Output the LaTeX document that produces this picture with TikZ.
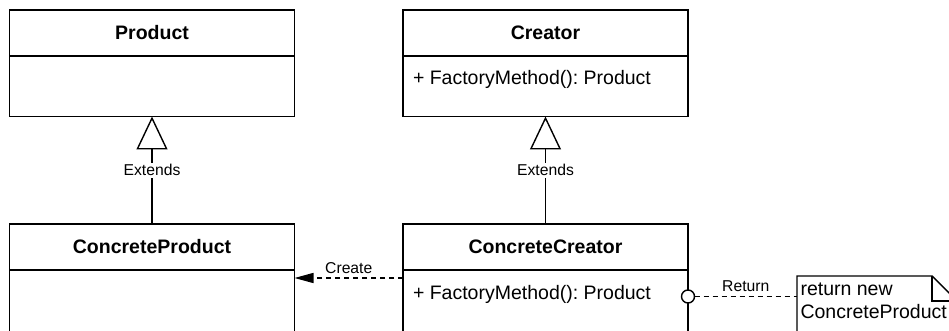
\documentclass[tikz,border=0pt]{standalone}
\usepackage{fontspec}
\setmainfont{Liberation Sans}
\usetikzlibrary{arrows.meta}
\frenchspacing
\begin{document}
\begin{tikzpicture}[x=1pt,y=-1pt,
  every node/.style={inner sep=0pt,outer sep=0pt},
  uml/.style={line width=1.4pt},
  classtitle/.style={draw,uml,minimum width=285pt,minimum height=46pt,
    font=\fontsize{19.5}{22}\bfseries\selectfont},
  classbody/.style={draw,uml,minimum width=285pt,anchor=north},
  member/.style={anchor=base west,font=\fontsize{19.5}{22}\selectfont},
  notetext/.style={anchor=base west,font=\fontsize{19.5}{23}\selectfont},
  lbl/.style={font=\fontsize{15.7}{18}\selectfont,inner sep=1.5pt},
  dep/.style={uml,dash pattern=on 5pt off 4pt},
  extends/.style={uml,-{Triangle[open,length=33pt,width=31pt,line width=1.4pt]}},
  creates/.style={dep,-{Triangle[length=19pt,width=10pt]}},
  endcircle/.style={circle,draw,uml,fill=white,minimum size=13pt},
]
\useasboundingbox (0,0) rectangle (949,331);
\fill[white] (0,0) rectangle (949,331);
\clip (0,0) rectangle (949,331);

% abstract classes
\node[classtitle] (prodT) at (152,33) {Product};
\node[classbody,minimum height=60.5pt] (prodB) at (prodT.south) {};
\node[classtitle] (crT) at (545.5,33) {Creator};
\node[classbody,minimum height=60.5pt] (crB) at (crT.south) {};
\node[member] (crM) at (413,85) {+ FactoryMethod(): Product};

% concrete classes
\node[classtitle] (cpT) at (152,247) {ConcreteProduct};
\node[classbody,minimum height=90pt] (cpB) at (cpT.south) {};
\node[classtitle] (ccT) at (545.5,247) {ConcreteCreator};
\node[classbody,minimum height=90pt] (ccB) at (ccT.south) {};
\node[member] (ccM) at (413,299) {+ FactoryMethod(): Product};

% note with folded corner
\node[minimum width=160pt,minimum height=70pt,anchor=north west] (note) at (797,276) {};
\draw[uml,fill=white] (note.north west) -- ([xshift=-25pt]note.north east)
  -- ([yshift=-25pt]note.north east) -- (note.south east)
  -- (note.south west) -- cycle;
\draw[uml] ([xshift=-25pt]note.north east) -- ([xshift=-25pt,yshift=-25pt]note.north east)
  -- ([yshift=-25pt]note.north east);
\node[notetext] (noteA) at ([xshift=3.5pt,yshift=-19pt]note.north west) {return new};
\node[notetext] (noteB) at ([xshift=3.5pt,yshift=-42pt]note.north west) {ConcreteProduct};

% generalisations
\draw[extends] (cpT.north) -- node[lbl,fill=white] {Extends} (prodB.south);
\draw[extends] (ccT.north) -- node[lbl,fill=white] {Extends} (crB.south);

% creation dependency
\coordinate (createFrom) at ([yshift=-8pt]ccB.north west);
\coordinate (createTo) at ([yshift=-8pt]cpB.north east);
\draw[creates] (createFrom) -- node[lbl,above=3pt] {Create} (createTo);

% return link, starting at an open circle on the class border
\node[endcircle] (retO) at ([yshift=-26.5pt]ccB.north east) {};
\draw[dep] (retO) -- node[lbl,above=3pt] {Return} (note.west |- retO);
\end{tikzpicture}
\end{document}
